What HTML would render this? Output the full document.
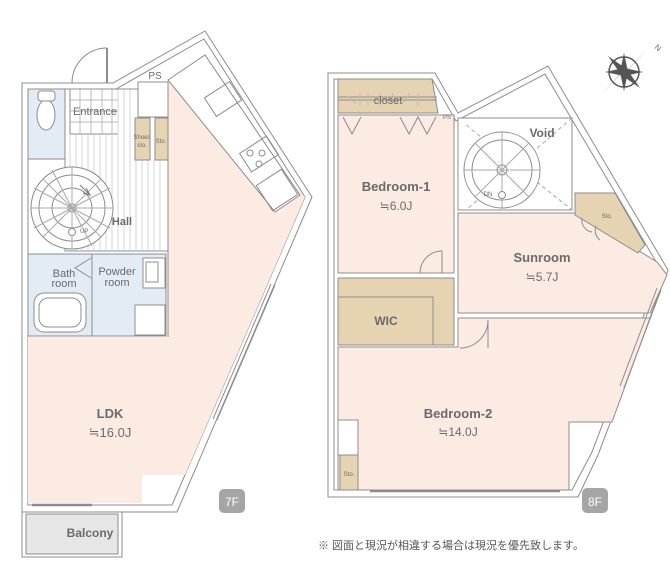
<!DOCTYPE html>
<html><head><meta charset="utf-8"><style>
html,body{margin:0;padding:0;background:#fff;}
svg{display:block;}
text{font-family:"Liberation Sans","Noto Sans CJK JP",sans-serif;fill:#6a6a6a;}
</style></head><body>
<svg width="670" height="564" viewBox="0 0 670 564" xmlns="http://www.w3.org/2000/svg">
<g stroke="#8c8c8c" stroke-width="1" fill="none">
<!-- ===== 7F ===== -->
<polygon points="22,83 113,83 205,31 312,197 177,512 22,512" fill="#fff"/>
<polygon points="28,89 116,89 204,39 305,197 172,505 28,505" fill="#fff"/>
<!-- door -->
<path d="M72,83 A35,35 0 0 1 107,48" />
<line x1="107" y1="48" x2="107" y2="83" stroke-width="2"/>
<!-- LDK -->
<polygon points="28,337 168,337 168,82 190,72 305,197 185,475 142,475 142,503 28,503" fill="#fbebe2" stroke="none"/>
<line x1="168" y1="160" x2="168" y2="337"/>
<!-- toilet -->
<rect x="28" y="89" width="37" height="70" fill="#e3ebf5"/>
<ellipse cx="46" cy="115" rx="9" ry="15" fill="#fff"/>
<rect x="38" y="91" width="17" height="10" rx="3" fill="#fff"/>
<!-- entrance tiles -->
<rect x="70" y="89" width="48" height="45" fill="#fff"/>
<path d="M70,100H118M70,111H118M70,122H118M80,89V134M91,89V134M102,89V134M112,89V134" stroke="#bbb"/>
<!-- hall stripes -->
<path d="M70,135V250M76,135V250M82,135V250M88,135V250M94,135V250M100,135V250M106,135V250M112,135V250M118,89V250M124,89V250M130,89V250M136,160V250M142,160V250M148,160V250M154,160V250M160,160V250" stroke="#d4d4d4"/>
<rect x="65" y="89" width="103" height="162"/>
<!-- stair -->
<circle cx="72" cy="208" r="41" fill="#fff"/>
<circle cx="72" cy="208" r="33"/>
<circle cx="72" cy="208" r="20"/>
<circle cx="72" cy="208" r="4" fill="#fff"/>
<path d="M72,167V249M31,208H113M43,179L101,237M43,237L101,179M52,170L92,246M34,188L110,228M34,228L110,188" stroke="#aaa"/>
<circle cx="72" cy="232" r="3.5" fill="#fff"/>
<path d="M80,185 L90,195" stroke="#777"/><path d="M86,188 L90,195 L83,193" stroke="#777"/>
<!-- PS & closets -->
<rect x="138" y="82" width="30" height="35" fill="#fff"/>
<rect x="135" y="118" width="15" height="42" fill="#e6d3b2"/>
<rect x="155" y="118" width="13" height="42" fill="#e6d3b2"/>
<!-- kitchen counter -->
<polygon points="168,80 205,55 300,195 275,212" fill="#fff"/>
<rect x="208" y="88" width="30" height="22" transform="rotate(-33 223 99)"/>
<rect x="243" y="143" width="32" height="22" transform="rotate(-33 259 154)"/>
<circle cx="250" cy="153" r="3"/><circle cx="262" cy="153" r="3"/><circle cx="259" cy="164" r="3"/>
<rect x="262" y="175" width="30" height="30" transform="rotate(-33 277 190)"/>
<!-- bath / powder -->
<rect x="28" y="254" width="138" height="82" fill="#e3ebf5"/>
<line x1="92" y1="254" x2="92" y2="336"/>
<rect x="34" y="293" width="52" height="39" rx="10" fill="#fff"/>
<rect x="39" y="298" width="42" height="29" rx="9"/>
<path d="M91,258 L75,268 L91,278"/>
<rect x="143" y="258" width="22" height="30" fill="#fff"/>
<rect x="146" y="262" width="12" height="20"/>
<rect x="135" y="305" width="30" height="30" fill="#fff"/>
<!-- balcony -->
<rect x="22" y="512" width="100" height="45" fill="#fff"/>
<rect x="26" y="514" width="92" height="40" fill="#e6e6e6"/>
<!-- windows -->
<path d="M32,505H92" stroke-width="2.5"/>
<path d="M275,285 L217,420 M271,284 L213,419" />
<!-- ===== 8F ===== -->
<polygon points="328,73 435,73 458,113 548,66 668,270 598,455 578,497 328,497" fill="#fff"/>
<polygon points="334,79 432,79 456,121 545,74 661,270 592,452 572,490 334,490" fill="#fff"/>
<!-- bedroom-1 -->
<rect x="338" y="115" width="116" height="158" fill="#fbebe2"/>
<polygon points="338,79 432,79 438,113 338,113" fill="#e6d3b2"/>
<path d="M338,97H437M338,100H437" />
<path d="M348,96L356,104M360,93V106M368,93V106M380,93V106M392,93L398,104M410,93L402,104M418,93V106" stroke="#bbb"/>
<path d="M343,117 L352,134 L361,117M400,117 L409,134 L418,117 L427,134 L436,117"/>
<path d="M420,273 A22,22 0 0 1 442,251 V273"/>
<!-- void -->
<rect x="458" y="118" width="114" height="92" fill="#fff"/>
<path d="M466,125L572,210M572,118L466,210" stroke="#aaa" stroke-dasharray="4,3"/>
<circle cx="502" cy="170" r="38" fill="#fff"/>
<circle cx="502" cy="170" r="30"/>
<circle cx="502" cy="170" r="5" fill="#fff"/>
<path d="M502,132V208M464,170H540M475,143L529,197M475,197L529,143" stroke="#aaa"/>
<circle cx="502" cy="195" r="3.5" fill="#fff"/>
<!-- sunroom -->
<polygon points="458,213 578,213 657,262 667,275 650,313 458,313" fill="#fbebe2"/>
<polygon points="575,193 615,193 645,245 638,253 575,215" fill="#e6d3b2"/>
<path d="M582,218 A12,12 0 0 0 592,232 M596,226 A12,12 0 0 0 600,240"/>
<!-- WIC -->
<rect x="338" y="278" width="116" height="67" fill="#e6d3b2"/>
<rect x="338" y="297" width="95" height="48"/>
<!-- bedroom-2 -->
<polygon points="338,347 458,347 458,318 650,318 612,422 569,422 569,490 338,490" fill="#fbebe2"/>
<path d="M460,348 A28,28 0 0 0 488,320 V348"/>
<rect x="338" y="420" width="20" height="35" fill="#fff"/>
<rect x="340" y="455" width="18" height="35" fill="#e6d3b2"/>
<path d="M370,491H560" stroke-width="2.5"/>
<path d="M661,290 L624,388 M657,288 L620,386"/>
</g>
<!-- compass -->
<g transform="translate(624,72)">
<circle r="15" fill="none" stroke="#555" stroke-width="1.5"/>
<polygon points="26,-26 4,-2 -2,4" fill="#555"/>
<polygon points="-22,22 -4,2 2,-4" fill="#555"/>
<polygon points="-16,-16 -2,4 4,-2" fill="#555"/>
<polygon points="16,16 2,-4 -4,2" fill="#555"/>
<polygon points="0,-19 4,0 0,19 -4,0" fill="#555"/>
<polygon points="-19,0 0,-4 19,0 0,4" fill="#555"/>
<text x="30" y="-24" font-size="8" transform="rotate(40 30 -24)">N</text>
</g>
<!-- labels -->
<g text-anchor="middle">
<text x="95" y="115" font-size="11">Entrance</text>
<text x="142" y="139" font-size="6">Shoes</text><text x="142" y="147" font-size="6">clo.</text>
<text x="161" y="143" font-size="6">Sto.</text>
<text x="155" y="79" font-size="10">PS</text>
<text x="122" y="225" font-size="11" font-weight="bold">Hall</text>
<text x="80" y="233" font-size="6" text-anchor="start">UP</text>
<text x="64" y="277" font-size="11">Bath</text><text x="64" y="287" font-size="11">room</text>
<text x="117" y="275" font-size="11">Powder</text><text x="117" y="286" font-size="11">room</text>
<text x="110" y="418" font-size="13" font-weight="bold">LDK</text>
<text x="110" y="437" font-size="13">≒16.0J</text>
<text x="90" y="537" font-size="12" font-weight="bold">Balcony</text>
<text x="388" y="104" font-size="11">closet</text>
<text x="447" y="119" font-size="6">PS</text>
<text x="396" y="191" font-size="13" font-weight="bold">Bedroom-1</text>
<text x="396" y="210" font-size="12">≒6.0J</text>
<text x="542" y="137" font-size="12" font-weight="bold">Void</text>
<text x="488" y="196" font-size="6">DN</text>
<text x="607" y="218" font-size="6">Sto.</text>
<text x="542" y="262" font-size="13" font-weight="bold">Sunroom</text>
<text x="542" y="281" font-size="12">≒5.7J</text>
<text x="386" y="325" font-size="12" font-weight="bold">WIC</text>
<text x="458" y="418" font-size="13" font-weight="bold">Bedroom-2</text>
<text x="458" y="436" font-size="12">≒14.0J</text>
<text x="349" y="476" font-size="6">Sto.</text>
</g>
<rect x="219" y="489" width="26" height="24" rx="5" fill="#a5a5a5"/>
<text x="232" y="506" font-size="12" text-anchor="middle" style="fill:#fff">7F</text>
<rect x="582" y="488" width="26" height="25" rx="5" fill="#a5a5a5"/>
<text x="595" y="506" font-size="12" text-anchor="middle" style="fill:#fff">8F</text>
<text x="318" y="549" font-size="11" style="fill:#555">※ 図面と現況が相違する場合は現況を優先致します。</text>
</svg>
</body></html>
